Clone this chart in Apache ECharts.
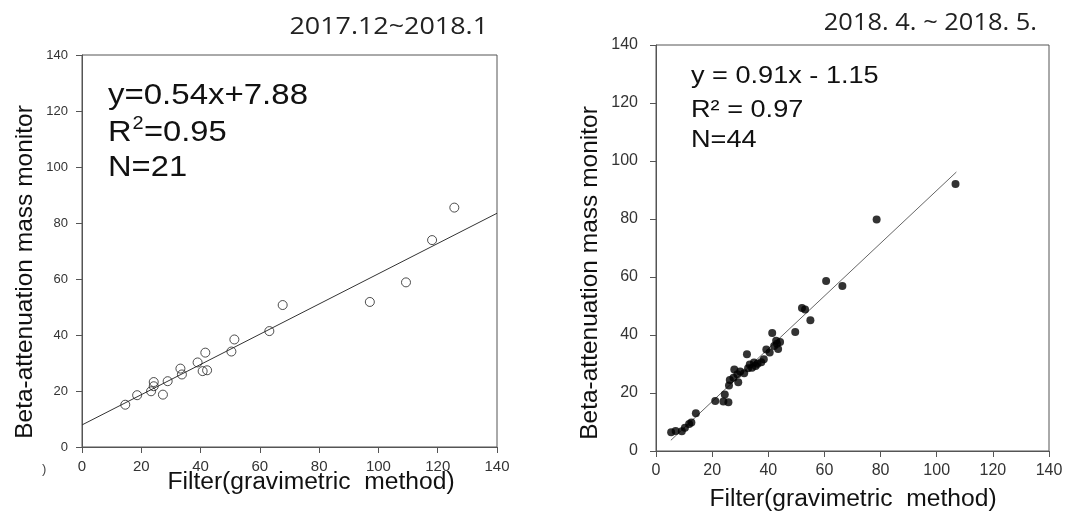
<!DOCTYPE html>
<html>
<head>
<meta charset="utf-8">
<script src="https://cdn.jsdelivr.net/npm/echarts@6/dist/echarts.min.js"></script>
<style>
    html, body { margin: 0; padding: 0; background: #fff; }
    #chart { width: 1065px; height: 518px; }
</style>
</head>
<body>
<div id="chart"></div>
<script>
// 2017.12 ~ 2018.1 (open circles)
const winterFilter = [14.6, 18.6, 23.3, 24.2, 24.2, 27.3, 28.9, 33.2, 33.7, 39.0, 40.7,
    42.2, 41.6, 50.4, 51.4, 63.2, 67.7, 97.1, 109.3, 118.1, 125.6];
const winterBam = [15.1, 18.5, 19.9, 23.2, 21.7, 18.7, 23.5, 28.0, 25.9, 30.2, 27.1,
    27.4, 33.7, 34.1, 38.4, 41.4, 50.7, 51.8, 58.8, 73.9, 85.5];
const winterFitX = [0, 140];
const winterFitY = [7.88, 83.48];

// 2018.4 ~ 2018.5 (filled circles)
const springFilter = [5.4, 7.0, 9.2, 10.3, 11.8, 12.6, 14.2, 21.1, 24.0, 24.5, 25.8,
    26.0, 26.3, 27.6, 27.9, 29.0, 29.3, 30.0, 31.4, 32.4, 32.8, 33.4,
    34.2, 34.9, 35.5, 36.2, 37.5, 38.4, 39.3, 40.5, 41.4, 42.1, 42.8,
    43.1, 43.5, 44.2, 49.6, 52.0, 53.1, 55.0, 60.6, 66.4, 78.6, 106.7];
const springBam = [6.5, 6.9, 6.8, 8.0, 9.3, 9.8, 13.0, 17.2, 17.1, 19.5, 16.8,
    22.6, 24.5, 25.3, 28.1, 26.5, 23.7, 27.4, 26.8, 33.4, 28.5, 29.8,
    28.7, 30.5, 29.3, 30.1, 30.6, 31.6, 35.0, 34.0, 40.7, 36.2, 38.0,
    37.0, 35.2, 37.6, 41.0, 49.3, 48.8, 45.1, 58.6, 56.9, 79.8, 92.1];
const springFitX = [5.3, 107];
const springFitY = [3.7, 96.2];

const axisTicks = [0, 20, 40, 60, 80, 100, 120, 140];

function pairs(xs, ys) {
    let out = [];
    xs.forEach(function (x, i) { out.push([x, ys[i]]); });
    return out;
}

var myChart = echarts.init(document.getElementById('chart'));

const sans = "'Liberation Sans', Arial, sans-serif";
const lineCol = '#555';

function valueAxis(idx, labelSize, labelMargin) {
    return {
        gridIndex: idx,
        type: 'value',
        min: axisTicks[0],
        max: axisTicks[axisTicks.length - 1],
        interval: 20,
        splitLine: { show: false },
        axisLine: { show: true, onZero: false, lineStyle: { color: lineCol, width: 1 } },
        axisTick: { show: true, inside: false, length: 6, lineStyle: { color: lineCol } },
        axisLabel: { fontFamily: sans, fontSize: labelSize, color: '#333', margin: labelMargin }
    };
}

function label(text, x, y, size, opts) {
    opts = opts || {};
    return {
        type: 'text',
        x: x, y: y,
        rotation: opts.rotation || 0,
        scaleX: opts.scaleX || 1,
        style: {
            text: text,
            fontFamily: opts.font || sans,
            fontSize: size,
            fill: opts.color || '#111',
            textAlign: opts.align || 'left',
            textVerticalAlign: 'middle'
        }
    };
}

const titleFont = "'Open Sans', 'Noto Sans CJK KR', sans-serif";

option = {
    animation: false,
    backgroundColor: '#fff',
    grid: [
        { left: 82, top: 55, width: 415, height: 392, show: true, borderColor: lineCol, borderWidth: 1, outerBoundsMode: 'none' },
        { left: 656, top: 45, width: 393, height: 406, show: true, borderColor: lineCol, borderWidth: 1, outerBoundsMode: 'none' }
    ],
    xAxis: [
        valueAxis(0, 15, 12),
        valueAxis(1, 16, 12)
    ],
    yAxis: [
        valueAxis(0, 13, 14),
        valueAxis(1, 16, 18)
    ],
    series: [
        {
            name: '2017.12~2018.1',
            type: 'scatter',
            xAxisIndex: 0, yAxisIndex: 0,
            symbol: 'circle',
            symbolSize: 9,
            itemStyle: { color: 'rgba(255,255,255,0)', borderColor: '#222', borderWidth: 1 },
            data: pairs(winterFilter, winterBam),
            z: 3
        },
        {
            type: 'line',
            xAxisIndex: 0, yAxisIndex: 0,
            data: pairs(winterFitX, winterFitY),
            showSymbol: false,
            lineStyle: { color: '#333', width: 1 },
            z: 2
        },
        {
            name: '2018. 4. ~ 2018. 5.',
            type: 'scatter',
            xAxisIndex: 1, yAxisIndex: 1,
            symbol: 'circle',
            symbolSize: 8,
            itemStyle: { color: '#000' },
            data: pairs(springFilter, springBam),
            z: 3
        },
        {
            type: 'line',
            xAxisIndex: 1, yAxisIndex: 1,
            data: pairs(springFitX, springFitY),
            showSymbol: false,
            lineStyle: { color: '#666', width: 1 },
            z: 2
        }
    ],
    graphic: [
        // titles
        label('2017.12~2018.1', 488, 27.5, 24, { font: titleFont, align: 'right', scaleX: 1.12, color: '#222' }),
        label('2018. 4. ~ 2018. 5.', 1037, 23.5, 24, { font: titleFont, align: 'right', scaleX: 1.06, color: '#222' }),

        // left annotation
        label('y=0.54x+7.88', 108, 96, 30, { scaleX: 1.1 }),
        label('R', 108, 133, 30, { scaleX: 1.09 }),
        label('2', 132.5, 124, 19, { scaleX: 1.05 }),
        label('=0.95', 144, 133, 30, { scaleX: 1.09 }),
        label('N=21', 108, 167.5, 30, { scaleX: 1.09 }),

        // right annotation
        label('y = 0.91x - 1.15', 691, 76, 24, { scaleX: 1.13 }),
        label('R\u00b2 = 0.97', 691, 110, 24, { scaleX: 1.13 }),
        label('N=44', 691, 140, 24, { scaleX: 1.13 }),

        // axis names
        label('Beta-attenuation mass monitor', 25, 272, 24.5, { align: 'center', rotation: Math.PI / 2 }),
        label('Filter(gravimetric  method)', 311, 483, 23, { align: 'center', scaleX: 1.07 }),
        label('Beta-attenuation mass monitor', 590, 273, 24.5, { align: 'center', rotation: Math.PI / 2 }),
        label('Filter(gravimetric  method)', 853, 500, 23, { align: 'center', scaleX: 1.07 }),

        // cut-off tick label at far left
        label(')', 42, 469, 13, { color: '#444' })
    ]
};
myChart.setOption(option);
</script>
</body>
</html>
